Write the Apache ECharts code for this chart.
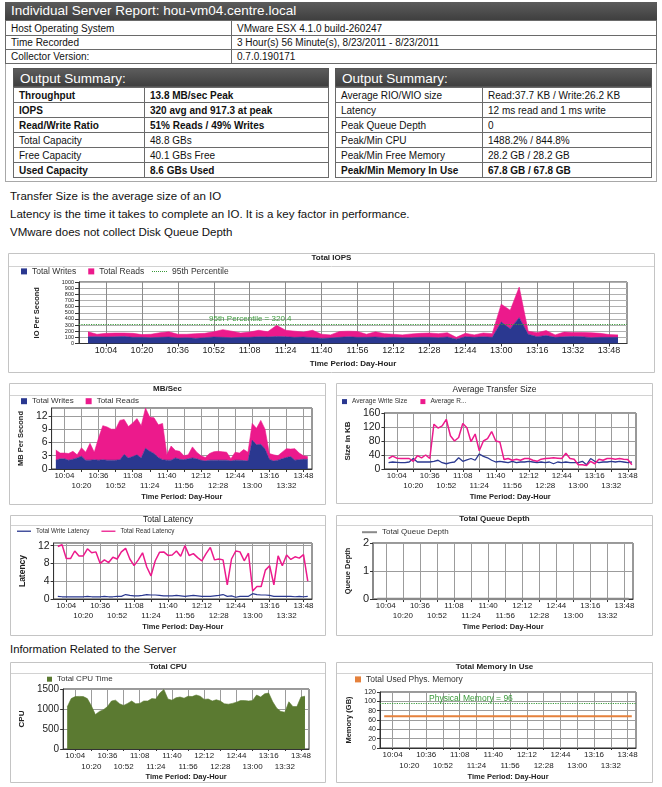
<!DOCTYPE html>
<html><head><meta charset="utf-8">
<script src="https://cdn.jsdelivr.net/npm/echarts@6/dist/echarts.min.js"></script>
<style>
body{margin:0;width:662px;height:787px;position:relative;background:#fff;overflow:hidden;font-family:"Liberation Sans",Arial,sans-serif;color:#111}
.a{position:absolute;box-sizing:border-box}
.bar{background:linear-gradient(#5c5c5c,#3f3f3f);color:#fff;white-space:nowrap}
table{border-collapse:collapse;table-layout:fixed;position:absolute}
td{border:1px solid #6a6a6a;padding:0 0 0 5px;font-size:10px;white-space:nowrap;overflow:hidden;line-height:13px}
.note{position:absolute;left:10px;font-size:11.5px;white-space:nowrap;color:#111}
</style></head><body>
<div id="hdr"></div>
<script>
// ---------- report text ----------
const reportTitle='Individual Server Report: hou-vm04.centre.local';
const hostRows=[['Host Operating System','VMware ESX 4.1.0 build-260247'],['Time Recorded','3 Hour(s) 56 Minute(s), 8/23/2011 - 8/23/2011'],['Collector Version:','0.7.0.190171']];
const summaryTitle='Output Summary:';
const summaryLeft=[['Throughput','13.8 MB/sec Peak',1],['IOPS','320 avg and 917.3 at peak',1],['Read/Write Ratio','51% Reads / 49% Writes',1],['Total Capacity','48.8 GBs',0],['Free Capacity','40.1 GBs Free',0],['Used Capacity','8.6 GBs Used',1]];
const summaryRight=[['Average RIO/WIO size','Read:37.7 KB / Write:26.2 KB',0],['Latency','12 ms read and 1 ms write',0],['Peak Queue Depth','0',0],['Peak/Min CPU','1488.2% / 844.8%',0],['Peak/Min Free Memory','28.2 GB / 28.2 GB',0],['Peak/Min Memory In Use','67.8 GB / 67.8 GB',1]];
const notes=['Transfer Size is the average size of an IO','Latency is the time it takes to complete an IO. It is a key factor in performance.','VMware does not collect Disk Queue Depth'];
const serverHeading='Information Related to the Server';

// ---------- chart data ----------
const axisTimes=['9:52','9:56','10:00','10:04','10:08','10:12','10:16','10:20','10:24','10:28','10:32','10:36','10:40','10:44','10:48','10:52','10:56','11:00','11:04','11:08','11:12','11:16','11:20','11:24','11:28','11:32','11:36','11:40','11:44','11:48','11:52','11:56','12:00','12:04','12:08','12:12','12:16','12:20','12:24','12:28','12:32','12:36','12:40','12:44','12:48','12:52','12:56','13:00','13:04','13:08','13:12','13:16','13:20','13:24','13:28','13:32','13:36','13:40','13:44','13:48','13:52','13:56'];
const tickLabels=['10:04','10:20','10:36','10:52','11:08','11:24','11:40','11:56','12:12','12:28','12:44','13:00','13:16','13:32','13:48'];
// samples 9:56 .. 13:52 every 4 minutes
const iopsWrites=[110,110,105,110,115,100,100,95,100,105,90,95,85,95,105,100,95,100,100,110,105,115,110,100,105,95,85,90,100,110,100,100,105,95,100,95,95,100,100,95,105,70,110,100,110,100,350,240,420,150,110,130,100,110,115,110,95,100,100,100];
const iopsReads=[80,40,60,60,55,65,45,55,75,85,60,55,75,70,85,125,105,70,85,105,85,180,105,100,80,120,65,50,95,90,95,50,85,65,50,45,60,65,70,65,70,30,55,40,60,60,290,300,497,50,65,80,40,75,65,70,80,65,45,40];
const percentile95=320.4;
const mbWrites=[2.0,2.3,2.3,2.0,2.2,2.5,2.9,2.0,2.0,2.1,2.0,2.1,2.0,2.0,2.0,2.1,3.3,2.5,2.8,3.2,2.5,4.7,4.0,3.5,2.6,2.1,2.0,2.0,2.5,2.2,2.1,2.3,2.5,2.3,2.0,1.8,2.0,2.0,2.0,2.0,2.0,1.8,2.0,2.0,1.9,1.8,6.5,5.5,5.6,4.5,2.2,1.8,2.0,2.3,2.6,2.8,2.0,2.1,2.2,2.2];
const mbReads=[2.3,1.3,1.3,1.5,1.8,0.7,1.9,1.8,3.8,1.7,5.0,7.7,7.5,7.0,7.0,8.9,7.9,7.1,7.6,8.2,7.3,9.1,7.7,8.1,7.4,8.2,1.2,3.2,1.7,1.8,0.9,0.9,2.5,1.5,1.0,0.8,1.5,1.9,2.0,1.9,1.8,0.5,1.8,1.6,2.5,2.0,3.8,3.7,5.4,4.5,1.3,1.4,1.0,1.5,2.0,1.7,2.6,1.5,0.8,0.6];
const avgWriteSize=[18,20,19,18,18,20,30,20,20,20,20,22,25,18,15,18,20,32,22,26,30,25,43,36,32,25,20,22,20,18,22,18,20,20,22,20,18,20,18,20,15,20,18,20,18,18,18,22,12,30,22,18,20,20,22,20,22,20,18,20];
const avgReadSize=[30,37,31,30,30,30,22,38,32,40,30,128,117,123,142,95,80,90,130,118,78,100,52,80,87,107,80,77,27,30,25,28,25,30,30,25,22,28,30,31,32,31,30,45,30,28,12,12,10,22,15,28,25,30,30,28,30,28,27,12];
const writeLatency=[0.6,0.5,0.5,0.5,0.5,0.5,0.5,0.6,0.5,0.5,0.5,0.6,0.5,0.5,0.6,0.6,1.0,0.8,0.7,0.7,0.8,1.0,0.9,0.9,0.8,0.7,0.7,0.7,0.8,0.7,0.6,0.7,0.8,0.7,0.6,0.6,0.6,0.7,0.8,1.0,0.6,0.7,0.4,0.6,0.6,0.6,1.2,1.0,0.9,0.9,0.8,0.6,0.6,0.6,0.6,0.6,0.5,0.6,0.5,0.6];
const readLatency=[11.8,12.2,9.1,9.1,10.8,9.7,9.7,11.3,10.4,10.6,8.0,8.8,8.2,9.4,9.0,10.6,11.4,9.0,7.5,8.8,10.4,7.2,5.2,8.6,10.5,10.6,9.8,9.9,10.8,9.6,12.0,9.8,10.2,9.3,8.6,10.2,11.6,8.8,9.0,8.8,3.2,9.0,10.8,10.6,8.6,10.3,1.8,2.8,2.8,6.5,7.5,3.2,9.7,7.5,9.9,8.9,9.5,9.2,10.0,4.0];
const queueDepth=[0,0,0,0,0,0,0,0,0,0,0,0,0,0,0,0,0,0,0,0,0,0,0,0,0,0,0,0,0,0,0,0,0,0,0,0,0,0,0,0,0,0,0,0,0,0,0,0,0,0,0,0,0,0,0,0,0,0,0,0];
const cpuTime=[1050,1260,1310,1315,1310,1260,1080,860,940,980,1060,1200,1220,1130,1090,1140,1200,1130,1140,1200,1200,1260,1250,1400,1488,1250,1220,1280,1300,1270,1320,1310,1350,1320,1240,1250,1200,1230,1200,1130,1120,1140,1170,1210,1210,1200,1210,1350,1300,1380,1400,1180,1020,940,920,1180,1060,1060,1300,1320];
const memoryUsed=[67.8,67.8,67.8,67.8,67.8,67.8,67.8,67.8,67.8,67.8,67.8,67.8,67.8,67.8,67.8,67.8,67.8,67.8,67.8,67.8,67.8,67.8,67.8,67.8,67.8,67.8,67.8,67.8,67.8,67.8,67.8,67.8,67.8,67.8,67.8,67.8,67.8,67.8,67.8,67.8,67.8,67.8,67.8,67.8,67.8,67.8,67.8,67.8,67.8,67.8,67.8,67.8,67.8,67.8,67.8,67.8,67.8,67.8,67.8,67.8];
const physicalMemory=96;

// ---------- header html ----------
(function(){
  let h='';
  h+=`<div class="a" style="left:5px;top:2px;width:652px;height:180px;border:1px solid #a8a8a8"></div>`;
  h+=`<div class="a bar" style="left:5px;top:2px;width:652px;height:18px;font-size:13.5px;line-height:18px;padding-left:6px">${reportTitle}</div>`;
  h+=`<table style="left:5px;top:20px;width:652px">`+hostRows.map((r,i)=>`<tr style="height:${i?14:15}px"><td style="width:220px">${r[0]}</td><td>${r[1]}</td></tr>`).join('')+`</table>`;
  function box(x,w,split,rows){
    let s=`<div class="a bar" style="left:${x}px;top:68px;width:${w}px;height:19px;font-size:13.5px;line-height:19px;padding-left:6px;border:1px solid #555">${summaryTitle}</div>`;
    s+=`<table style="left:${x}px;top:87px;width:${w}px">`+rows.map(r=>`<tr style="height:15px"><td style="width:${split-5}px;${r[2]?'font-weight:bold':''}">${r[0]}</td><td style="${r[2]?'font-weight:bold':''}">${r[1]}</td></tr>`).join('')+`</table>`;
    return s;
  }
  h+=box(13,316,130,summaryLeft);
  h+=box(335,317,146,summaryRight);
  notes.forEach((t,i)=>{h+=`<div class="note" style="top:${190+i*18}px">${t}</div>`;});
  h+=`<div class="note" style="top:643px;font-size:11.3px">${serverHeading}</div>`;
  document.getElementById('hdr').innerHTML=h;
})();

// ---------- charts ----------
const F='"Liberation Sans", Arial, sans-serif';
const pad=a=>[null].concat(a,[null]);
const isTick=(i,v)=>tickLabels.indexOf(v)>=0;
const isRow1=(i,v)=>{const k=tickLabels.indexOf(v);return k>=0&&k%2===0;};
const isRow2=(i,v)=>{const k=tickLabels.indexOf(v);return k>=0&&k%2===1;};
const C_BLUE='#2a3890', C_PINK='#ec1a8c', C_GREEN='#3a9a3a';
const DOTTED='path://M0,0h1v1h-1z M2,0h1v1h-1z M4,0h1v1h-1z M6,0h1v1h-1z M8,0h1v1h-1z M10,0h1v1h-1z M12,0h1v1h-1z M14,0h1v1h-1z';

function build(c){
  const [bx,by,bw,bh]=c.box;
  const el=document.createElement('div');
  el.style.cssText=`position:absolute;left:${bx}px;top:${by}px;width:${bw}px;height:${bh}px;`;
  document.body.appendChild(el);
  const ch=echarts.init(el);
  const [gx1,gy1,gx2,gy2]=c.grid;
  const lh=c.lineH||10;
  const two=c.rows===2;
  const m1=c.xRowY-gy2-c.xFs*0.6;
  const xAxes=[{type:'category',data:axisTimes,boundaryGap:false,
      axisLine:{lineStyle:{color:'#333'}},
      axisTick:{show:true,interval:isTick,length:c.xTick||3,lineStyle:{color:'#333'}},
      axisLabel:{interval:two?isRow1:isTick,fontSize:c.xFs,color:'#222',margin:m1},
      splitLine:{show:true,interval:isTick,lineStyle:{color:c.vGrid||'#9c9c9c',width:1}},
      name:'Time Period: Day-Hour',nameLocation:'middle',nameGap:c.xNameY-gy2-c.xNameFs*0.6,
      nameTextStyle:{fontSize:c.xNameFs,fontWeight:'bold',color:'#222',fontFamily:F}}];
  if(two) xAxes.push({type:'category',data:axisTimes,boundaryGap:false,position:'bottom',
      axisLine:{show:false},axisTick:{show:false},splitLine:{show:false},
      axisLabel:{interval:isRow2,fontSize:c.xFs,color:'#222',margin:m1+lh}});
  const opt={
    animation:false,
    textStyle:{fontFamily:F},
    title:{text:c.title,left:'center',top:c.titleY-by-c.titleSize*0.6,padding:0,
      textStyle:{fontSize:c.titleSize,fontWeight:c.titleBold?'bold':'normal',color:'#222',fontFamily:F}},
    graphic:[
      {type:'rect',silent:true,shape:{x:0.5,y:0.5,width:bw-1,height:bh-1},style:{fill:'none',stroke:'#c4c4c4',lineWidth:1}},
      {type:'line',silent:true,shape:{x1:1,y1:c.sepY-by+0.5,x2:bw-1,y2:c.sepY-by+0.5},style:{stroke:'#d2d2d2',lineWidth:1}}
    ],
    legend:c.legends.map(l=>({left:l.x-bx,top:l.y-by-Math.max(l.ih,l.fs*1.2)/2,padding:0,selectedMode:false,
      itemWidth:l.iw,itemHeight:l.ih,itemGap:l.gap||12,data:l.data,
      textStyle:{fontSize:l.fs,color:'#333',fontFamily:F}})),
    grid:{left:gx1-bx,top:gy1-by,width:gx2-gx1,height:gy2-gy1,show:true,borderColor:'#333',borderWidth:1,backgroundColor:'transparent'},
    xAxis:xAxes,
    yAxis:{type:'value',min:c.y.min,max:c.y.max,interval:c.y.interval,
      axisLine:{show:true,lineStyle:{color:c.y.axisColor||'#333',width:c.y.axisWidth||1}},
      axisTick:{show:true,length:c.y.tick||3,lineStyle:{color:'#333'}},
      axisLabel:{fontSize:c.y.fs,color:'#222',margin:c.y.margin||4,showMaxLabel:c.y.showMax!==false,formatter:v=>String(v)},
      splitLine:{show:true,lineStyle:{color:c.hGrid||'#9c9c9c',width:1}},
      name:c.y.name,nameLocation:'middle',nameRotate:90,nameGap:gx1-c.y.nameX-c.y.nameFs/2,
      nameTextStyle:{fontSize:c.y.nameFs,fontWeight:'bold',color:'#222',fontFamily:F}},
    series:c.series
  };
  ch.setOption(opt);
}

function area(name,data,color){
  return {name,type:'line',stack:'s',data:pad(data),symbol:'none',showSymbol:false,
    lineStyle:{width:0.6,color},areaStyle:{color,opacity:1},itemStyle:{color}};
}
function line(name,data,color,w){
  return {name,type:'line',data:pad(data),symbol:'none',showSymbol:false,lineStyle:{width:w,color},itemStyle:{color}};
}

// Total IOPS
build({box:[8,253,647,120],title:'Total IOPS',titleBold:true,titleSize:8,titleY:259,sepY:266,
  legends:[
    {x:21,y:272,iw:6,ih:6,fs:8.5,gap:12,data:[{name:'Total Writes',icon:'rect'},{name:'Total Reads',icon:'rect'}]},
    {x:152,y:272,iw:15,ih:1.2,fs:8.5,data:[{name:'95th Percentile',icon:DOTTED}]}],
  grid:[79,282,627,347],rows:1,xRowY:355,xFs:9,xNameY:367,xNameFs:8,vGrid:'#8c8c8c',hGrid:'#b0b0b0',
  y:{min:0,max:1000,interval:100,fs:5.5,margin:5,tick:4,name:'IO Per Second',nameX:37,nameFs:7.5},
  series:[area('Total Writes',iopsWrites,C_BLUE),area('Total Reads',iopsReads,C_PINK),
    {name:'95th Percentile',type:'line',data:[],symbol:'none',lineStyle:{type:'dotted',color:C_GREEN,width:1.2},itemStyle:{color:C_GREEN},
     markLine:{silent:true,symbol:'none',data:[{yAxis:percentile95}],lineStyle:{type:'dotted',color:C_GREEN,width:1.2},
       label:{formatter:'95th Percentile = '+percentile95,position:'insideStartTop',distance:[130,1],color:C_GREEN,fontSize:8,fontFamily:F}}}]});

// MB/Sec
build({box:[9,383,317,122],title:'MB/Sec',titleBold:true,titleSize:8,titleY:390,sepY:395,
  legends:[{x:21,y:402,iw:6,ih:6,fs:8,gap:12,data:[{name:'Total Writes',icon:'rect'},{name:'Total Reads',icon:'rect'}]}],
  grid:[50,408,312,469],rows:2,xRowY:477,lineH:10,xFs:8,xNameY:497,xNameFs:7.5,
  y:{min:0,max:13.8,interval:3,fs:10.5,showMax:false,name:'MB Per Second',nameX:25,nameFs:7.5},
  series:[area('Total Writes',mbWrites,C_BLUE),area('Total Reads',mbReads,C_PINK)]});

// Average Transfer Size
build({box:[336,383,317,121],title:'Average Transfer Size',titleBold:false,titleSize:8.5,titleY:390,sepY:395,
  legends:[{x:342,y:402,iw:5,ih:5,fs:6.5,gap:13,data:[{name:'Average Write Size',icon:'rect'},
    {name:'Average Read Size',icon:'rect',textStyle:{width:40,overflow:'truncate',ellipsis:'...'}}]}],
  grid:[380,413,636,469],rows:2,xRowY:477,lineH:10,xFs:8,xNameY:497,xNameFs:7.5,
  y:{min:0,max:160,interval:40,fs:10.5,name:'Size in KB',nameX:351,nameFs:8},
  series:[line('Average Write Size',avgWriteSize,C_BLUE,1.3),line('Average Read Size',avgReadSize,C_PINK,1.5)]});

// Total Latency
build({box:[10,515,316,121],title:'Total Latency',titleBold:false,titleSize:8.5,titleY:520,sepY:525,
  legends:[{x:17,y:532,iw:14,ih:1.3,fs:6.3,gap:12,data:[{name:'Total Write Latency',icon:'rect'},{name:'Total Read Latency',icon:'rect'}]}],
  grid:[50,543,312,599],rows:2,xRowY:607,lineH:10,xFs:8,xNameY:627,xNameFs:7.5,
  y:{min:0,max:12.6,interval:4,fs:10.5,showMax:false,name:'Latency',nameX:25,nameFs:8.5},
  series:[line('Total Write Latency',writeLatency,C_BLUE,1.2),line('Total Read Latency',readLatency,C_PINK,1.5)]});

// Total Queue Depth
build({box:[336,515,317,121],title:'Total Queue Depth',titleBold:true,titleSize:8,titleY:520,sepY:525,
  legends:[{x:362,y:533,iw:15,ih:2,fs:8,gap:12,data:[{name:'Total Queue Depth',icon:'rect'}]}],
  grid:[371,543,633,599],rows:2,xRowY:607,lineH:10,xFs:8,xNameY:627,xNameFs:7.5,
  y:{min:0,max:2,interval:1,fs:11,name:'Queue Depth',nameX:351,nameFs:7.5,axisColor:'#8a8a8a',axisWidth:2},
  series:[line('Total Queue Depth',queueDepth,'#8a8a8a',2.5)]});

// Total CPU
build({box:[10,662,316,121],title:'Total CPU',titleBold:true,titleSize:8,titleY:668,sepY:673,
  legends:[{x:47,y:680,iw:5,ih:5,fs:8,data:[{name:'Total CPU Time',icon:'rect'}]}],
  grid:[61,689,309,749],rows:2,xRowY:757,lineH:10.5,xTick:2,xFs:8,xNameY:777,xNameFs:7.5,
  y:{min:0,max:1500,interval:500,fs:10,name:'CPU',nameX:27,nameFs:8},
  series:[area('Total CPU Time',cpuTime,'#5b7a31')]});

// Total Memory In Use
build({box:[336,662,317,121],title:'Total Memory In Use',titleBold:true,titleSize:8,titleY:668,sepY:673,
  legends:[{x:355,y:680,iw:6,ih:6,fs:8.5,data:[{name:'Total Used Phys. Memory',icon:'rect'}]}],
  grid:[380,692,636,748],rows:2,xRowY:756,lineH:10.5,xTick:2,xFs:8,xNameY:777,xNameFs:7.5,
  y:{min:0,max:120,interval:20,fs:7,name:'Memory (GB)',nameX:351,nameFs:7.5},
  series:[Object.assign(line('Total Used Phys. Memory',memoryUsed,'#e5813c',2),{
    markLine:{silent:true,symbol:'none',data:[{yAxis:physicalMemory}],lineStyle:{type:'dotted',color:C_GREEN,width:1.2},
      label:{formatter:'Physical Memory = '+physicalMemory,position:'insideStartTop',distance:[49,0],color:C_GREEN,fontSize:8.5,fontFamily:F}}})]});
</script>
</body></html>
